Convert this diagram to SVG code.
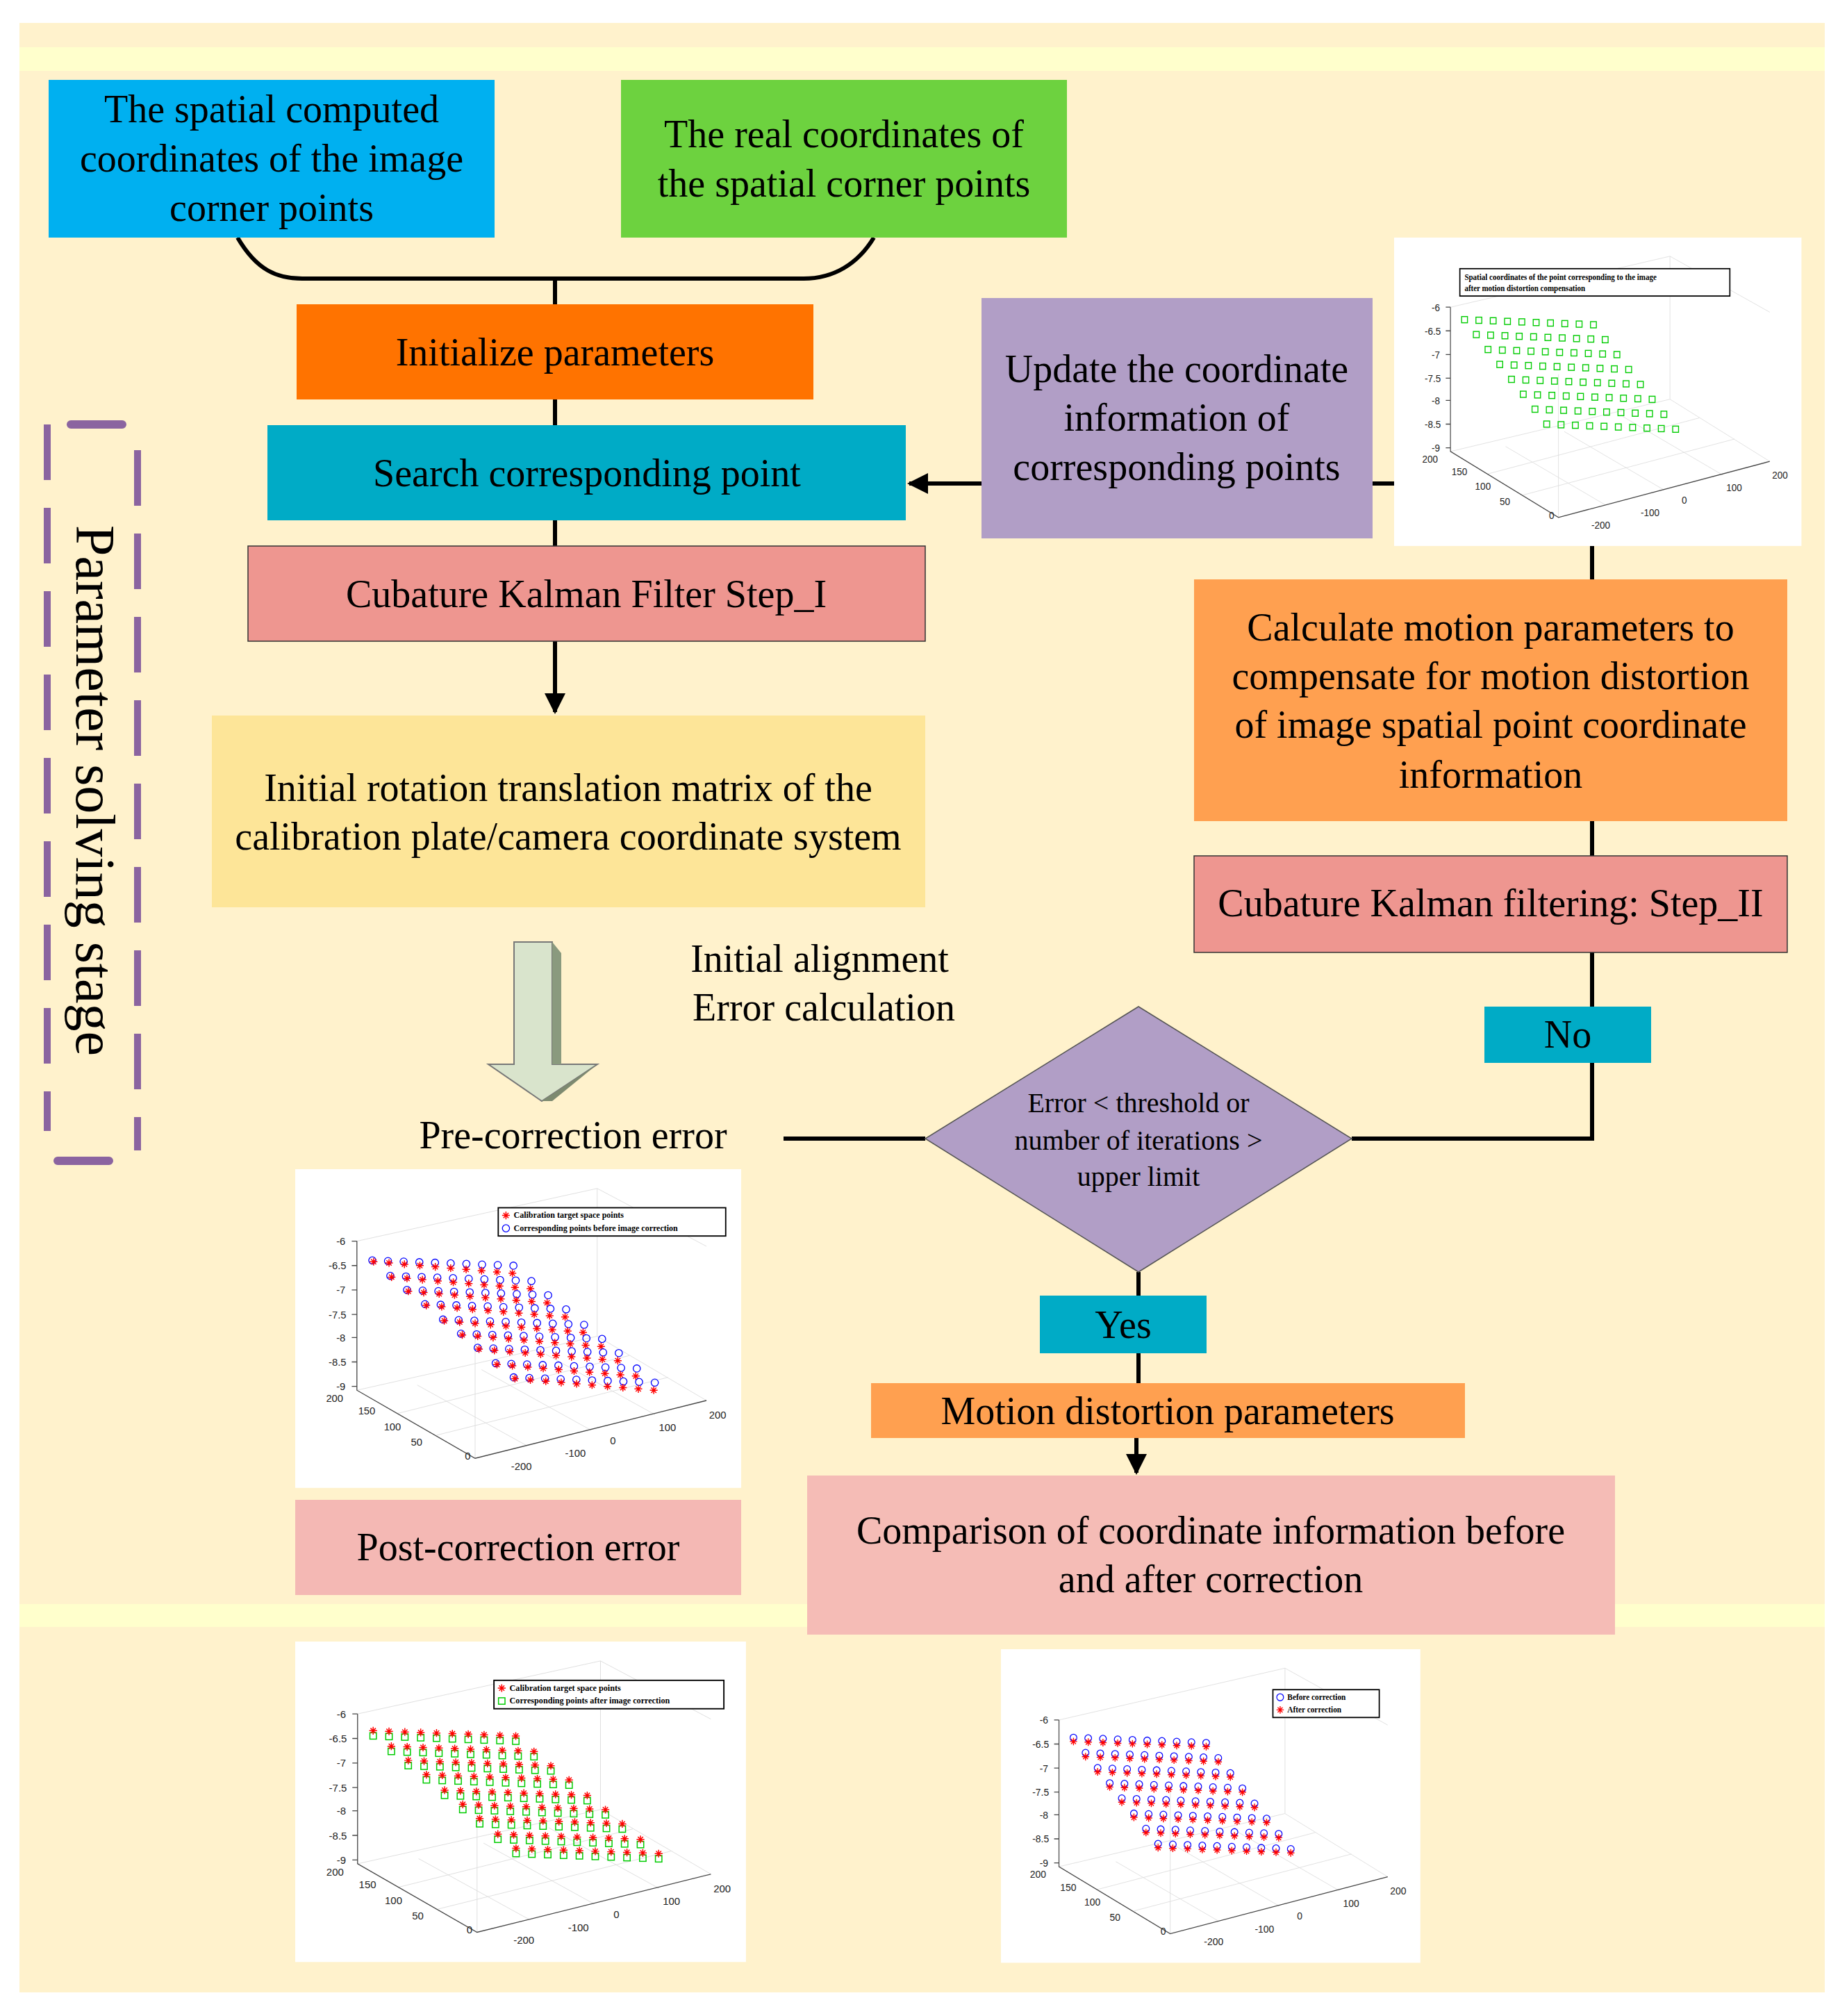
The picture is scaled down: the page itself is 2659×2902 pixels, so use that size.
<svg xmlns="http://www.w3.org/2000/svg" xmlns:xlink="http://www.w3.org/1999/xlink" width="2659" height="2902" viewBox="0 0 2659 2902">
<style>
.t{font-family:"Liberation Serif","Times New Roman",serif;font-size:56px;fill:#000;text-anchor:middle}
.d{font-family:"Liberation Serif",serif;font-size:40px;text-anchor:middle}
.ln{stroke:#000;stroke-width:6;fill:none}
.tk{font-family:"Liberation Sans",Arial,sans-serif;font-size:8px;fill:#222}
.lg{font-family:"Liberation Serif",serif;font-size:6.5px;font-weight:bold;fill:#000}
.ax{stroke:#444;stroke-width:0.7;fill:none}
.gr{stroke:#ddd;stroke-width:0.5;fill:none}
</style>
<defs>
<marker id="ah" viewBox="0 0 10 10" refX="9" refY="5" markerWidth="5" markerHeight="5" orient="auto" markerUnits="strokeWidth"><path d="M0,0L10,5L0,10z" fill="#000"/></marker>
<path id="st" d="M-3,0h6M0,-3v6M-2,-2l4,4M2,-2l-4,4" stroke="#f00" stroke-width="0.8"/>
<circle id="ci" r="2.8" fill="none" stroke="#00f" stroke-width="0.7"/>
<rect id="sq" x="-2.5" y="-2.5" width="5" height="5" fill="none" stroke="#0c0" stroke-width="0.8"/>
<g id="rowA">
<use href="#ci" x="0" y="0"/><use href="#ci" x="12.2" y="0.5"/><use href="#ci" x="24.4" y="0.9"/><use href="#ci" x="36.6" y="1.4"/><use href="#ci" x="48.8" y="1.8"/><use href="#ci" x="61" y="2.3"/><use href="#ci" x="73.2" y="2.7"/><use href="#ci" x="85.4" y="3.2"/><use href="#ci" x="97.6" y="3.6"/><use href="#ci" x="109.8" y="4.1"/>
<use href="#st" x="1" y="1"/><use href="#st" x="13" y="2"/><use href="#st" x="25" y="3"/><use href="#st" x="37" y="4"/><use href="#st" x="49" y="5"/><use href="#st" x="61" y="6"/><use href="#st" x="73" y="7"/><use href="#st" x="85" y="8"/><use href="#st" x="97" y="9"/><use href="#st" x="109" y="10"/>
</g>
<g id="rowB">
<use href="#sq" x="0" y="2"/><use href="#sq" x="12.2" y="2.5"/><use href="#sq" x="24.4" y="2.9"/><use href="#sq" x="36.6" y="3.4"/><use href="#sq" x="48.8" y="3.8"/><use href="#sq" x="61" y="4.3"/><use href="#sq" x="73.2" y="4.7"/><use href="#sq" x="85.4" y="5.2"/><use href="#sq" x="97.6" y="5.6"/><use href="#sq" x="109.8" y="6.1"/>
<use href="#st" x="0" y="-2"/><use href="#st" x="12.2" y="-1.5"/><use href="#st" x="24.4" y="-1"/><use href="#st" x="36.6" y="-0.6"/><use href="#st" x="48.8" y="-0.2"/><use href="#st" x="61" y="0.3"/><use href="#st" x="73.2" y="0.7"/><use href="#st" x="85.4" y="1.2"/><use href="#st" x="97.6" y="1.6"/><use href="#st" x="109.8" y="2.1"/>
</g>
<g id="rowC">
<use href="#ci" x="0" y="0"/><use href="#ci" x="12.2" y="0.5"/><use href="#ci" x="24.4" y="0.9"/><use href="#ci" x="36.6" y="1.4"/><use href="#ci" x="48.8" y="1.8"/><use href="#ci" x="61" y="2.3"/><use href="#ci" x="73.2" y="2.7"/><use href="#ci" x="85.4" y="3.2"/><use href="#ci" x="97.6" y="3.6"/><use href="#ci" x="109.8" y="4.1"/>
<use href="#st" x="0" y="3"/><use href="#st" x="12.2" y="3.5"/><use href="#st" x="24.4" y="3.9"/><use href="#st" x="36.6" y="4.4"/><use href="#st" x="48.8" y="4.8"/><use href="#st" x="61" y="5.3"/><use href="#st" x="73.2" y="5.7"/><use href="#st" x="85.4" y="6.2"/><use href="#st" x="97.6" y="6.6"/><use href="#st" x="109.8" y="7.1"/>
</g>
<g id="rowG">
<use href="#sq" x="0" y="0"/><use href="#sq" x="12.2" y="0.5"/><use href="#sq" x="24.4" y="0.9"/><use href="#sq" x="36.6" y="1.4"/><use href="#sq" x="48.8" y="1.8"/><use href="#sq" x="61" y="2.3"/><use href="#sq" x="73.2" y="2.7"/><use href="#sq" x="85.4" y="3.2"/><use href="#sq" x="97.6" y="3.6"/><use href="#sq" x="109.8" y="4.1"/>
</g>
<g id="frame">
<rect x="0" y="0" width="347" height="248" fill="#fff"/>
<path class="gr" d="M48,56L235,15L320,60M235,15V130M48,172L235,130L320,180M140,225V110M80,190L260,145M110,207L290,162M180,215L95,168M230,203L145,156M280,191L195,144"/>
<path class="ax" d="M48,56V172L140,225L320,180M44,56h4M44,75h4M44,94h4M44,113h4M44,131h4M44,150h4M44,169h4"/>
<text class="tk" x="32" y="59">-6</text><text class="tk" x="26" y="78">-6.5</text><text class="tk" x="32" y="97">-7</text><text class="tk" x="26" y="116">-7.5</text><text class="tk" x="32" y="134">-8</text><text class="tk" x="26" y="153">-8.5</text><text class="tk" x="32" y="172">-9</text>
<text class="tk" x="24" y="181">200</text><text class="tk" x="49" y="191">150</text><text class="tk" x="69" y="203">100</text><text class="tk" x="90" y="215">50</text><text class="tk" x="132" y="226">0</text>
<text class="tk" x="168" y="234">-200</text><text class="tk" x="210" y="224">-100</text><text class="tk" x="245" y="214">0</text><text class="tk" x="283" y="204">100</text><text class="tk" x="322" y="194">200</text>
</g>
</defs>
<rect x="28" y="33" width="2599" height="2835" fill="#fff2cc"/>
<rect x="28" y="68" width="2599" height="34" fill="#ffffcc"/>
<rect x="28" y="2309" width="2599" height="33" fill="#ffffcc"/>

<g id="connectors">
<path class="ln" d="M342,342C370,390 400,401 435,401H1157C1200,401 1235,380 1258,342M799,401V612M799,749V786"/>
<path class="ln" d="M799,923V1025" marker-end="url(#ah)"/>
<path class="ln" d="M1413,696H1309" marker-end="url(#ah)"/>
<path class="ln" d="M1976,696H2007M2292,786V834M2292,1182V1232M2292,1371V1449M2292,1530V1639H1946M1332,1639H1128M1639,1831V1865M1639,1948V1991"/>
<path class="ln" d="M1636,2070V2120" marker-end="url(#ah)"/>
</g>

<g id="n1"><rect x="70" y="115" width="642" height="227" fill="#00b0f0"/><text class="t" x="391" y="176">The spatial computed</text><text class="t" x="391" y="247">coordinates of the image</text><text class="t" x="391" y="318">corner points</text></g>
<g id="n2"><rect x="894" y="115" width="642" height="227" fill="#6dd23f"/><text class="t" x="1215" y="212">The real coordinates of</text><text class="t" x="1215" y="283">the spatial corner points</text></g>
<g id="n3"><rect x="427" y="438" width="744" height="137" fill="#ff7300"/><text class="t" x="799" y="526">Initialize parameters</text></g>
<g id="n4"><rect x="385" y="612" width="919" height="137" fill="#00abc6"/><text class="t" x="845" y="700">Search corresponding point</text></g>
<g id="n5"><rect x="357" y="786" width="975" height="137" fill="#ee9690" stroke="#333" stroke-width="1.5"/><text class="t" x="844" y="874">Cubature Kalman Filter Step_I</text></g>
<g id="n6"><rect x="305" y="1030" width="1027" height="276" fill="#fde598"/><text class="t" x="818" y="1153">Initial rotation translation matrix of the</text><text class="t" x="818" y="1223">calibration plate/camera coordinate system</text></g>
<g id="n7"><rect x="1413" y="429" width="563" height="346" fill="#b19ec6"/><text class="t" x="1694" y="550">Update the coordinate</text><text class="t" x="1694" y="620">information of</text><text class="t" x="1694" y="691">corresponding points</text></g>
<g id="n8"><rect x="1719" y="834" width="854" height="348" fill="#ffa050"/><text class="t" x="2146" y="922">Calculate motion parameters to</text><text class="t" x="2146" y="992">compensate for motion distortion</text><text class="t" x="2146" y="1062">of image spatial point coordinate</text><text class="t" x="2146" y="1134">information</text></g>
<g id="n9"><rect x="1719" y="1232" width="854" height="139" fill="#ee9690" stroke="#333" stroke-width="1.5"/><text class="t" x="2146" y="1319">Cubature Kalman filtering: Step_II</text></g>
<g id="no"><rect x="2137" y="1449" width="240" height="81" fill="#00abc6"/><text class="t" x="2257" y="1508">No</text></g>
<g id="dia"><path d="M1639,1449L1946,1639L1639,1831L1332,1639z" fill="#b19ec6" stroke="#555" stroke-width="1.5"/><text class="d" x="1639" y="1601">Error &lt; threshold or</text><text class="d" x="1639" y="1655">number of iterations &gt;</text><text class="d" x="1639" y="1707">upper limit</text></g>
<g id="yes"><rect x="1497" y="1865" width="240" height="83" fill="#00abc6"/><text class="t" x="1617" y="1926">Yes</text></g>
<g id="mdp"><rect x="1254" y="1991" width="855" height="79" fill="#ffa050"/><text class="t" x="1681" y="2050">Motion distortion parameters</text></g>
<g id="cmp"><rect x="1162" y="2124" width="1163" height="229" fill="#f4b8b4" opacity="0.95"/><text class="t" x="1743" y="2222">Comparison of coordinate information before</text><text class="t" x="1743" y="2292">and after correction</text></g>
<g id="post"><rect x="425" y="2159" width="642" height="137" fill="#f4b8b4"/><text class="t" x="746" y="2246">Post-correction error</text></g>
<g id="pre"><text class="t" x="825" y="1653">Pre-correction error</text></g>
<g id="align"><text class="t" x="1180" y="1399">Initial alignment</text><text class="t" x="1186" y="1469">Error calculation</text></g>

<g id="bigarrow">
<path d="M740,1356H795V1532H860L780,1585L703,1532H740z" fill="#d9e4cc" stroke="#777" stroke-width="2"/>
<path d="M795,1356L808,1372V1532H860L795,1532z" fill="#8a9a7e"/>
<path d="M860,1532L795,1585H780L860,1532z" fill="#7d8a70"/>
</g>

<g id="stage">
<path d="M68,611V1628M198,648V1656" stroke="#8b64a0" stroke-width="10" stroke-dasharray="80,40" fill="none"/>
<path d="M102,611H176M83,1671H157" stroke="#8b64a0" stroke-width="12" stroke-linecap="round"/>
<text transform="translate(110,1138) rotate(90)" style="font-family:'Liberation Serif',serif;font-size:80px;text-anchor:middle">Parameter solving stage</text>
</g>

<g id="chartTR" transform="translate(2007,342) scale(1.69,1.79)">
<use href="#frame"/>
<rect x="56" y="25" width="230" height="22" fill="#fff" stroke="#000" stroke-width="1"/>
<text class="lg" x="60" y="34">Spatial coordinates of the point corresponding to the     image</text>
<text class="lg" x="60" y="43">after motion distortion compensation</text>
<g transform="translate(60,66)"><use href="#rowG"/></g><g transform="translate(70,78)"><use href="#rowG"/></g><g transform="translate(80,90)"><use href="#rowG"/></g><g transform="translate(90,102)"><use href="#rowG"/></g><g transform="translate(100,114)"><use href="#rowG"/></g><g transform="translate(110,126)"><use href="#rowG"/></g><g transform="translate(120,138)"><use href="#rowG"/></g><g transform="translate(130,150)"><use href="#rowG"/></g>
</g>

<g id="chartPre" transform="translate(425,1683) scale(1.85)">
<use href="#frame"/>
<rect x="158" y="30" width="177" height="22" fill="#fff" stroke="#000" stroke-width="1"/>
<use href="#st" x="164" y="36"/><use href="#ci" x="164" y="46"/>
<text class="lg" x="170" y="38">Calibration target space points</text>
<text class="lg" x="170" y="48">Corresponding points before image correction</text>
<g transform="translate(60,71)"><use href="#rowA"/></g><g transform="translate(74,83)"><use href="#rowA"/></g><g transform="translate(87,94)"><use href="#rowA"/></g><g transform="translate(101,105)"><use href="#rowA"/></g><g transform="translate(115,117)"><use href="#rowA"/></g><g transform="translate(129,128)"><use href="#rowA"/></g><g transform="translate(142,139)"><use href="#rowA"/></g><g transform="translate(156,151)"><use href="#rowA"/></g><g transform="translate(170,162)"><use href="#rowA"/></g>
</g>

<g id="chartPost" transform="translate(425,2363) scale(1.87,1.86)">
<use href="#frame"/>
<rect x="153" y="30" width="177" height="22" fill="#fff" stroke="#000" stroke-width="1"/>
<use href="#st" x="159" y="36"/><use href="#sq" x="159" y="46"/>
<text class="lg" x="165" y="38">Calibration target space points</text>
<text class="lg" x="165" y="48">Corresponding points after image correction</text>
<g transform="translate(60,71)"><use href="#rowB"/></g><g transform="translate(74,83)"><use href="#rowB"/></g><g transform="translate(87,94)"><use href="#rowB"/></g><g transform="translate(101,105)"><use href="#rowB"/></g><g transform="translate(115,117)"><use href="#rowB"/></g><g transform="translate(129,128)"><use href="#rowB"/></g><g transform="translate(142,139)"><use href="#rowB"/></g><g transform="translate(156,151)"><use href="#rowB"/></g><g transform="translate(170,162)"><use href="#rowB"/></g>
</g>

<g id="chartCmp" transform="translate(1441,2374) scale(1.74,1.82)">
<use href="#frame"/>
<rect x="225" y="32" width="88" height="22" fill="#fff" stroke="#000" stroke-width="1"/>
<use href="#ci" x="231" y="38"/><use href="#st" x="231" y="48"/>
<text class="lg" x="237" y="40">Before correction</text>
<text class="lg" x="237" y="50">After correction</text>
<g transform="translate(60,70)"><use href="#rowC"/></g><g transform="translate(70,82)"><use href="#rowC"/></g><g transform="translate(80,94)"><use href="#rowC"/></g><g transform="translate(90,106)"><use href="#rowC"/></g><g transform="translate(100,118)"><use href="#rowC"/></g><g transform="translate(110,130)"><use href="#rowC"/></g><g transform="translate(120,142)"><use href="#rowC"/></g><g transform="translate(130,154)"><use href="#rowC"/></g>
</g>
</svg>
